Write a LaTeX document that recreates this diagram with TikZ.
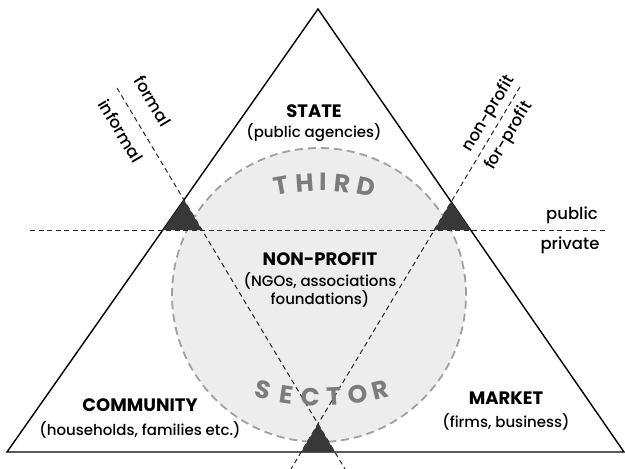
\documentclass[tikz,border=0pt]{standalone}
\usepackage{fontspec}
\setmainfont{Poppins}
\newfontfamily\medfont{Poppins Medium}
\usetikzlibrary{calc}
\definecolor{circfill}{HTML}{EDEDED}
\definecolor{circline}{HTML}{A0A0A0}
\definecolor{sectxt}{HTML}{7C7C7C}
\definecolor{darktri}{HTML}{383838}
\begin{document}
\begin{tikzpicture}[x=1pt,y=-1pt,
  edge/.style={line width=1.4pt, line join=miter},
  divider/.style={draw=black!85, line width=1pt, dash pattern=on 5pt off 3.5pt},
  ring/.style={draw=circline, line width=1.8pt, dash pattern=on 8pt off 5pt},
  knot/.style={fill=darktri, draw=none},
  head/.style={font=\fontsize{18}{20}\selectfont\bfseries, inner sep=0pt},
  sub/.style={font=\medfont\fontsize{15}{17.5}\selectfont, inner sep=0pt, align=center},
  side/.style={font=\medfont\fontsize{16.5}{18}\selectfont, inner sep=0pt},
  big/.style={font=\fontsize{25}{28}\selectfont\bfseries, text=sectxt, inner sep=0pt},
]
\useasboundingbox (0,0) rectangle (625,469);
% key points
\coordinate (A) at (318,9);
\coordinate (B) at (7,452);
\coordinate (C) at (624,452);
\coordinate (L1a) at (117,88);  \coordinate (L1b) at (345,469);
\coordinate (L2a) at (520,87);  \coordinate (L2b) at (291,469);
\coordinate (Ha) at (30,230);   \coordinate (Hb) at (607,230);
\coordinate (O) at (319,295);
% circle
\fill[circfill] (O) circle[radius=147pt];
\draw[ring] (O) circle[radius=147pt];
% big triangle
\draw[edge] (A) -- (B) -- (C) -- cycle;
% dividers
\draw[divider] (L1a) -- (L1b);
\draw[divider] (L2a) -- (L2b);
\draw[divider] (Ha) -- (Hb);
% small dark triangles
\coordinate (P1) at (intersection of A--B and L1a--L1b);
\coordinate (P1l) at (intersection of A--B and Ha--Hb);
\coordinate (P1r) at (intersection of L1a--L1b and Ha--Hb);
\coordinate (P2) at (intersection of A--C and L2a--L2b);
\coordinate (P2l) at (intersection of L2a--L2b and Ha--Hb);
\coordinate (P2r) at (intersection of A--C and Ha--Hb);
\coordinate (P3) at (intersection of L1a--L1b and L2a--L2b);
\coordinate (P3l) at (intersection of L2a--L2b and B--C);
\coordinate (P3r) at (intersection of L1a--L1b and B--C);
\fill[knot] (P1) -- (P1l) -- (P1r) -- cycle;
\fill[knot] (P2) -- (P2l) -- (P2r) -- cycle;
\fill[knot] (P3) -- (P3l) -- (P3r) -- cycle;
% sector labels
\node[head] (state) at (314,111) {STATE};
\node[sub] (statesub) at (314,133) {(public agencies)};
\node[head] (np) at (320,259) {NON-PROFIT};
\node[sub] (npsub) at (320,290) {(NGOs, associations\\foundations)};
\node[head] (comm) at (140,405) {COMMUNITY};
\node[sub] (commsub) at (140,430) {(households, families etc.)};
\node[head] (mkt) at (506,398) {MARKET};
\node[sub] (mktsub) at (506,422) {(firms, business)};
% divider labels
\node[side] (pub) at (572,215) {public};
\node[side] (priv) at (570,245) {private};
\node[side, rotate=-59] (formal) at (153,101) {formal};
\node[side, rotate=-59] (informal) at (121,131) {informal};
\node[side, rotate=59] (nonprofit) at (489,114) {non-profit};
\node[side, rotate=59] (forprofit) at (509,136) {for-profit};
% THIRD along top arc
\coordinate (Ot) at (321,402);
\foreach \ch/\ang [count=\i] in {T/10.5, H/4.2, I/-0.5, R/-5.7, D/-11.8}{
  \node[big, rotate=\ang] (third\i) at ($(Ot)+({90+\ang}:220pt)$) {\ch};
}
% SECTOR along bottom arc
\coordinate (Ob) at (322,157);
\foreach \ch/\ang [count=\i] in {S/-14.1, E/-8.45, C/-2.8, T/2.85, O/8.5, R/14.15}{
  \node[big, rotate=\ang] (sector\i) at ($(Ob)+({-90+\ang}:240pt)$) {\ch};
}
\end{tikzpicture}
\end{document}
